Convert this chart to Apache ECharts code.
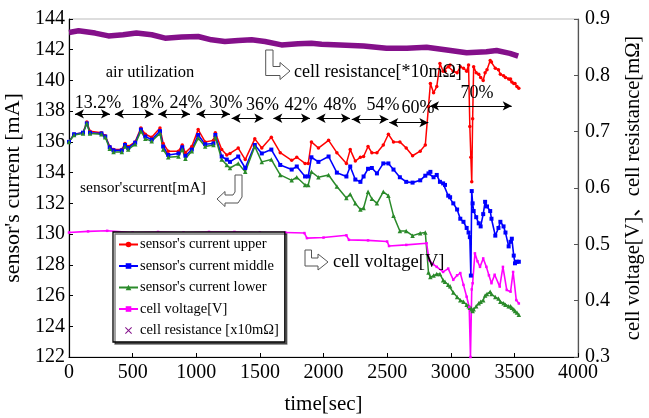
<!DOCTYPE html>
<html>
<head>
<meta charset="utf-8">
<script src="https://cdn.jsdelivr.net/npm/echarts@6/dist/echarts.min.js"></script>
<style>
  html, body { margin: 0; padding: 0; background: #fff; }
  #chart { width: 649px; height: 418px; }
</style>
</head>
<body>
<div id="chart"></div>
<script>
// time axis for the three sensor currents [sec]
const sensorTime = [
  0, 40, 110, 140, 165, 255, 285, 320, 350, 415,
  440, 465, 520, 565, 600, 650, 715, 740, 780, 860,
  890, 915, 965, 1015, 1070, 1135, 1150, 1200, 1240, 1265,
  1330, 1385, 1460, 1515, 1590, 1660, 1750, 1790, 1855, 1880,
  1905, 1960, 2040, 2105, 2180, 2210, 2250, 2290, 2315, 2350,
  2380, 2420, 2470, 2510, 2550, 2600, 2650, 2700, 2760, 2800,
  2825, 2840, 2865, 2890, 2915, 2940, 2955, 2980, 2995, 3020,
  3050, 3075, 3100, 3125, 3140, 3150, 3158, 3165, 3172, 3180,
  3200, 3220, 3235, 3255, 3270, 3285, 3310, 3320, 3350, 3375,
  3390, 3415, 3430, 3455, 3470, 3480, 3495, 3505, 3520, 3535
]
// sensor's current [mA]
const currentUpper = [
  136.0, 136.5, 136.6, 137.3, 136.7, 136.6, 136.4, 135.7, 135.5, 135.5,
  135.9, 135.7, 136.0, 136.9, 136.5, 136.3, 136.9, 135.9, 135.4, 135.4,
  135.8, 135.3, 135.7, 136.8, 136.0, 136.1, 136.6, 135.5, 135.15, 135.25,
  135.6, 134.85, 136.2, 135.6, 136.3, 135.3, 134.8, 135.0, 134.6, 134.6,
  136.0, 135.6, 136.1, 135.3, 134.6, 135.5, 134.75, 135.0, 135.05, 135.7,
  135.3, 135.3, 135.8, 136.5, 136.0, 136.0, 135.6, 135.1, 135.4, 135.8,
  138.3, 139.8, 139.2, 139.6, 141.1, 140.6, 140.6, 140.9, 141.0, 140.6,
  140.5, 140.9, 140.8, 140.6, 141.0, 137.0, 135.0, 133.4, 137.5, 140.9,
  140.5, 140.4, 140.2, 140.0, 140.5, 140.7, 141.3, 141.2, 140.8, 140.7,
  140.4, 140.3, 140.2, 140.1, 140.1, 139.9, 139.8, 139.8, 139.6, 139.5
]
const currentMiddle = [
  136.0, 136.5, 136.6, 137.2, 136.6, 136.55, 136.35, 135.65, 135.45, 135.45,
  135.8, 135.6, 135.95, 136.8, 136.35, 136.15, 136.7, 135.7, 135.15, 135.25,
  135.65, 135.1, 135.5, 136.45, 135.85, 135.9, 136.45, 135.05, 134.85, 134.7,
  135.05, 134.3, 135.8, 135.25, 135.5, 134.5, 134.2, 134.4, 133.75, 133.75,
  135.0, 134.7, 135.05, 134.0, 133.75, 134.4, 133.55, 133.4, 133.75, 134.25,
  134.3, 133.95, 134.6, 134.6, 134.2, 133.7, 133.4, 133.35, 133.5, 133.8,
  133.95, 134.05, 133.7, 133.85, 133.4, 133.3, 133.2, 132.5, 132.4, 132.0,
  131.6, 131.0, 130.8, 130.4, 130.1, 129.8, 127.3, 132.8, 132.0, 131.5,
  131.1, 130.7, 130.5, 131.3, 132.1, 131.8, 131.5, 131.0, 129.9, 130.4,
  130.8, 130.5, 130.1, 129.2, 129.5, 129.7, 128.6, 128.1, 128.2, 128.2
]
const currentLower = [
  136.0, 136.45, 136.55, 137.2, 136.55, 136.5, 136.3, 135.55, 135.35, 135.35,
  135.7, 135.5, 135.85, 136.7, 136.2, 136.05, 136.55, 135.5, 135.0, 135.05,
  135.5, 134.9, 135.4, 136.25, 135.7, 135.8, 136.3, 134.85, 134.5, 134.3,
  134.6, 134.05, 135.7, 134.7, 134.85, 133.85, 133.5, 133.7, 133.2, 133.2,
  134.05, 133.7, 133.85, 133.1, 132.35, 132.6, 132.0, 131.6, 131.7, 132.75,
  132.3, 132.0, 132.75, 132.5, 131.2, 130.2, 130.2, 129.9, 130.05, 130.1,
  127.5, 127.2, 127.3, 127.4, 127.4, 127.0, 126.9, 126.7, 126.6, 126.2,
  125.9, 125.7, 125.6, 125.4, 125.3, 125.2, 125.2, 125.1, 125.0, 125.1,
  125.3, 125.5, 125.6, 125.7, 126.0, 126.1, 126.25, 126.1, 125.9, 125.8,
  125.6, 125.5, 125.4, 125.3, 125.3, 125.2, 125.1, 125.0, 124.9, 124.75
]
// cell voltage [V]
const voltTime = [
  0, 150, 300, 500, 700, 900, 1100, 1300, 1500, 1700,
  1850, 1870, 2000, 2180, 2200, 2350, 2500, 2515, 2650, 2810,
  2830, 2860, 2890, 2940, 2980, 3020, 3050, 3075, 3100, 3125,
  3145, 3155, 3165, 3172, 3190, 3210, 3230, 3255, 3280, 3300,
  3320, 3345, 3385, 3410, 3440, 3470, 3490, 3515, 3535
]
const cellVoltage = [
  0.521, 0.523, 0.524, 0.521, 0.522, 0.521, 0.522, 0.522, 0.521, 0.521,
  0.520, 0.511, 0.512, 0.516, 0.508, 0.507, 0.505, 0.497, 0.499, 0.502,
  0.472, 0.465, 0.460, 0.451, 0.457, 0.437, 0.445, 0.449, 0.428, 0.407,
  0.389, 0.300, 0.420, 0.431, 0.484, 0.470, 0.460, 0.475, 0.460, 0.445,
  0.431, 0.446, 0.425, 0.460, 0.419, 0.416, 0.451, 0.401, 0.395
]
// cell resistance
const resTime = [
  0, 75, 205, 310, 425, 530, 650, 755, 885, 1015,
  1120, 1225, 1330, 1435, 1540, 1670, 1800, 1905, 1985, 2130,
  2315, 2495, 2655, 2810, 2970, 3125, 3280, 3360, 3465, 3530
]
const cellResistance = [
  0.876, 0.879, 0.875, 0.870, 0.872, 0.875, 0.872, 0.866, 0.868, 0.869,
  0.863, 0.860, 0.862, 0.863, 0.860, 0.854, 0.856, 0.857, 0.855, 0.854,
  0.852, 0.848, 0.848, 0.850, 0.845, 0.840, 0.842, 0.844, 0.839, 0.834
]
// air utilization steps
const utilLabels = ['13.2%', '18%', '24%', '30%', '36%', '42%', '48%', '54%', '60%', '70%']
const utilStart = [47, 361, 702, 1003, 1278, 1606, 1946, 2222, 2517, 2837]
const utilEnd = [322, 663, 951, 1265, 1527, 1894, 2208, 2509, 2824, 3479]
const utilArrowLevel = [137.82, 137.82, 137.82, 137.82, 137.54, 137.54, 137.54, 137.47, 137.25, 138.34]

const FONT = '"Liberation Serif", "Times New Roman", "Noto Sans CJK JP", serif'

function pairs(xs, ys) {
  return xs.map((x, i) => [x, ys[i]])
}

const chart = echarts.init(document.getElementById('chart'))

const arrowData = utilLabels.map((l, i) => [
  { coord: [utilStart[i], utilArrowLevel[i]] },
  { coord: [utilEnd[i], utilArrowLevel[i]] }
])

// label placement over the arrows (px)
const labelPos = [
  [98, 103], [147.5, 103], [186, 103], [226, 103], [262.5, 105],
  [301, 105], [340, 105], [383, 105], [418, 108], [477, 93]
]

const hollowArrows = [
  [[265.7, 50], [273, 50], [273, 66.5], [280, 66.5], [280, 62.5], [290, 71], [280, 79.5], [280, 75.5], [265.7, 75.5]],
  [[235, 175], [242, 175], [242, 197], [238, 203], [225, 203], [225, 206.5], [217, 199], [225, 191.5], [225, 195], [233, 195], [235, 192]],
  [[305, 250], [311.5, 250], [311.5, 258], [318, 258], [318, 254], [328, 262], [318, 270], [318, 266], [305, 266]]
]

const graphics = []
utilLabels.forEach((l, i) => {
  graphics.push({
    type: 'text', x: labelPos[i][0], y: labelPos[i][1], z: 10,
    style: { text: l, font: '18px ' + FONT, fill: '#000', textAlign: 'center', textVerticalAlign: 'middle' }
  })
})
hollowArrows.forEach(pts => {
  graphics.push({
    type: 'polygon', z: 10,
    shape: { points: pts },
    style: { fill: '#fff', stroke: '#555', lineWidth: 1 }
  })
})
graphics.push(
  { type: 'text', x: 150, y: 73, z: 10, style: { text: 'air utilization', font: '16.5px ' + FONT, fill: '#000', textAlign: 'center', textVerticalAlign: 'middle' } },
  { type: 'text', x: 294, y: 72, z: 10, style: { text: 'cell resistance[*10mΩ]', font: '18px ' + FONT, fill: '#000', textVerticalAlign: 'middle' } },
  { type: 'text', x: 80, y: 188, z: 10, style: { text: "sensor'scurrent[mA]", font: '15.5px ' + FONT, fill: '#000', textVerticalAlign: 'middle' } },
  { type: 'text', x: 333, y: 262, z: 10, style: { text: 'cell voltage[V]', font: '18.5px ' + FONT, fill: '#000', textVerticalAlign: 'middle' } }
)

chart.setOption({
  animation: false,
  textStyle: { fontFamily: FONT },
  grid: {
    left: 69, right: 71, top: 19, bottom: 61,
    outerBoundsMode: 'none',
    containLabel: false,
    show: true, borderColor: '#bbb', borderWidth: 1
  },
  legend: {
    orient: 'vertical',
    left: 113, top: 232,
    padding: [5, 6, 4, 5],
    itemGap: 6.5,
    itemWidth: 19,
    itemHeight: 7,
    backgroundColor: '#fff',
    borderColor: '#000',
    borderWidth: 1.3,
    borderRadius: 0,
    shadowColor: 'rgba(0,0,0,0.55)',
    shadowOffsetX: 2,
    shadowOffsetY: 2,
    shadowBlur: 0,
    textStyle: { fontFamily: FONT, fontSize: 14.5, color: '#000', lineHeight: 15, padding: [0, 0, 0, -3] },
    data: [
      "sensor's current upper",
      "sensor's current middle",
      "sensor's current lower",
      'cell voltage[V]',
      { name: 'cell resistance [x10mΩ]', icon: 'path://M0,1L1,0L5,4L9,0L10,1L6,5L10,9L9,10L5,6L1,10L0,9L4,5Z' }
    ]
  },
  xAxis: {
    type: 'value',
    min: 0, max: 4000, interval: 500,
    name: 'time[sec]',
    nameLocation: 'middle',
    nameGap: 37,
    nameTextStyle: { fontFamily: FONT, fontSize: 21, color: '#000' },
    axisLine: { lineStyle: { color: '#000', width: 1.2 } },
    axisTick: { inside: true, length: 4, lineStyle: { color: '#000' } },
    axisLabel: { fontFamily: FONT, fontSize: 20, color: '#000', margin: 6, formatter: v => String(v) },
    splitLine: { show: false }
  },
  yAxis: [
    {
      type: 'value',
      min: 122, max: 144, interval: 2,
      name: "sensor's current [mA]",
      nameLocation: 'middle',
      nameRotate: 90,
      nameGap: 41,
      nameTextStyle: { fontFamily: FONT, fontSize: 22, color: '#000' },
      axisLine: { show: true, lineStyle: { color: '#000', width: 1.2 } },
      axisTick: { show: true, inside: true, length: 4, lineStyle: { color: '#000' } },
      axisLabel: { fontFamily: FONT, fontSize: 20, color: '#000', margin: 4, formatter: v => String(v) },
      splitLine: { show: false }
    },
    {
      type: 'value',
      min: 0.3, max: 0.9, interval: 0.1,
      position: 'right',
      name: 'cell voltage[V]、cell resistance[mΩ]',
      nameLocation: 'middle',
      nameRotate: 90,
      nameGap: 45,
      nameTextStyle: { fontFamily: FONT, fontSize: 20.5, color: '#000' },
      axisLine: { show: true, lineStyle: { color: '#555', width: 1.2 } },
      axisTick: { show: true, inside: true, length: 4, lineStyle: { color: '#555' } },
      axisLabel: { fontFamily: FONT, fontSize: 20, color: '#000', margin: 7, formatter: v => v.toFixed(1) },
      splitLine: { show: false }
    }
  ],
  graphic: graphics,
  series: [
    {
      name: "sensor's current upper",
      type: 'line',
      yAxisIndex: 0,
      data: pairs(sensorTime, currentUpper),
      color: '#ff0000',
      symbol: 'circle', symbolSize: 3.5,
      lineStyle: { width: 1.5 },
      markLine: {
        silent: true,
        symbol: ['arrow', 'arrow'],
        symbolSize: [7, 9],
        label: { show: false },
        lineStyle: { color: '#000', type: 'solid', width: 1 },
        data: arrowData
      }
    },
    {
      name: "sensor's current middle",
      type: 'line',
      yAxisIndex: 0,
      data: pairs(sensorTime, currentMiddle),
      color: '#0000ff',
      symbol: 'rect', symbolSize: 4,
      lineStyle: { width: 1.6 }
    },
    {
      name: "sensor's current lower",
      type: 'line',
      yAxisIndex: 0,
      data: pairs(sensorTime, currentLower),
      color: '#2a8a2a',
      symbol: 'triangle', symbolSize: 4.5,
      lineStyle: { width: 1.5 }
    },
    {
      name: 'cell voltage[V]',
      type: 'line',
      yAxisIndex: 1,
      data: pairs(voltTime, cellVoltage),
      color: '#ff00ff',
      symbol: 'rect', symbolSize: 2.5,
      lineStyle: { width: 1.6 }
    },
    {
      name: 'cell resistance [x10mΩ]',
      type: 'line',
      yAxisIndex: 1,
      data: pairs(resTime, cellResistance),
      color: '#84108a',
      symbol: 'none',
      lineStyle: { width: 5.5 }
    }
  ]
})
</script>
</body>
</html>
